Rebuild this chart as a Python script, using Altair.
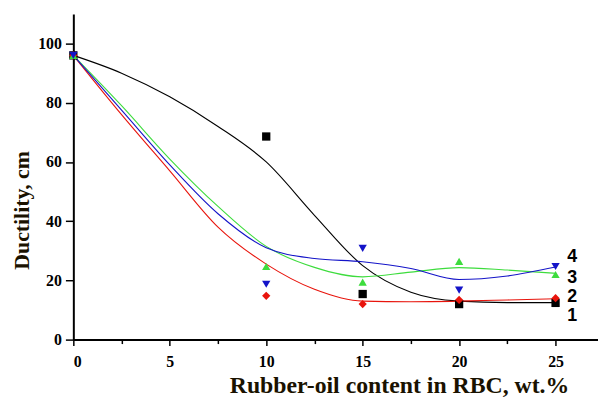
import altair as alt
import pandas as pd

# measured points
pt_x = [0, 10, 15, 20, 25]
s1 = [96, 68.6, 15.4, 12.0, 12.4]
s2 = [96, 14.8, 12.0, 13.4, 14.0]
s3 = [96, 24.7, 19.4, 26.4, 22.0]
s4 = [96, 18.7, 30.8, 16.7, 24.7]

# smoothed curves
cx = [0, 2.5, 5, 7.5, 10, 12.5, 15, 17.5, 20, 22.5, 25]
c1 = [96, 90, 82, 72, 60, 42, 25, 16, 13, 12.5, 12.5]
c2 = [96, 76, 57, 38, 25.5, 17, 13, 12.8, 13, 13.4, 13.8]
c3 = [96, 79, 61, 45, 31.5, 24.4, 21.2, 22.8, 24.3, 23.5, 22.4]
c4 = [96, 77.5, 59, 42.5, 31, 27.4, 26.3, 24, 20.3, 21.5, 24.5]

series = ["1", "2", "3", "4"]
colors = ["#000000", "#e8140c", "#3ddc3d", "#1414c8"]
shapes = ["square", "diamond", "triangle-up", "triangle-down"]
label_y = [8, 14.4, 20.7, 27.8]
label_x = 25.6

x_ticks = [0, 2.5, 5, 7.5, 10, 12.5, 15, 17.5, 20, 22.5, 25, 27.5]
y_ticks = [0, 10, 20, 30, 40, 50, 60, 70, 80, 90, 100, 110]

pts = pd.DataFrame(
    [{"x": x, "y": v, "s": s} for s, vals in zip(series, [s1, s2, s3, s4]) for x, v in zip(pt_x, vals)]
)
curves = pd.DataFrame(
    [{"x": x, "y": v, "s": s} for s, vals in zip(series, [c1, c2, c3, c4]) for x, v in zip(cx, vals)]
)
labs = pd.DataFrame({"x": [label_x] * 4, "y": label_y, "t": series})

xs = alt.Scale(domain=[0, 27.2], nice=False)
ys = alt.Scale(domain=[0, 110], nice=False)
cs = alt.Scale(domain=series, range=colors)
ss = alt.Scale(domain=series, range=shapes)

lab_font = "Liberation Serif"

xaxis = alt.Axis(
    values=x_ticks, grid=False, orient="bottom",
    labelExpr="datum.value % 5 === 0 && datum.value <= 25 ? format(datum.value, 'd') : ''",
    labelFont=lab_font, labelFontWeight="bold", labelFontSize=16, labelColor="#000",
    labelPadding=8, tickSize={"expr": "datum.value % 5 === 0 ? 6 : 4"}, tickWidth=1.5, tickColor="#000",
    domainColor="#000", domainWidth=2,
    title="Rubber-oil content in RBC, wt.%", titleFont=lab_font, titleFontWeight="bold",
    titleFontSize=24, titleColor="#1a1200", titleX=329, titleY=53, titleAlign="center",
    titleBaseline="alphabetic",
)
yaxis = alt.Axis(
    values=y_ticks, grid=False, orient="left",
    labelExpr="datum.value % 20 === 0 && datum.value <= 100 ? format(datum.value, 'd') : ''",
    labelFont=lab_font, labelFontWeight="bold", labelFontSize=16, labelColor="#000",
    labelPadding=4, tickSize={"expr": "datum.value % 20 === 0 ? 8 : 5"}, tickWidth=1.5, tickColor="#000",
    domainColor="#000", domainWidth=2,
    title="Ductility, cm", titleFont=lab_font, titleFontWeight="bold",
    titleFontSize=22, titleColor="#1a1200", titleX=-45, titleY=198, titleAngle=-90,
    titleAlign="center", titleBaseline="alphabetic",
)

lines = alt.Chart(curves).mark_line(strokeWidth=1.1, interpolate="monotone").encode(
    x=alt.X("x:Q", scale=xs, axis=xaxis),
    y=alt.Y("y:Q", scale=ys, axis=yaxis),
    color=alt.Color("s:N", scale=cs, legend=None),
    detail="s:N",
)

points = alt.Chart(pts).mark_point(filled=True, opacity=1, size=70).encode(
    x=alt.X("x:Q", scale=xs),
    y=alt.Y("y:Q", scale=ys),
    color=alt.Color("s:N", scale=cs, legend=None),
    shape=alt.Shape("s:N", scale=ss, legend=None),
    order=alt.Order("s:N"),
)

texts = alt.Chart(labs).mark_text(
    align="left", baseline="middle", font="Liberation Sans", fontWeight="bold", fontSize=18, color="#000"
).encode(
    x=alt.X("x:Q", scale=xs),
    y=alt.Y("y:Q", scale=ys),
    text="t:N",
)

chart = alt.layer(lines, points, texts).properties(
    width=530, height=329,
    autosize=alt.AutoSizeParams(type="none"),
    padding={"left": 66, "top": 4, "right": 0, "bottom": 58},
    background="white",
).configure_view(stroke=None)

chart.save("out.html", embed_options={"renderer": "svg", "actions": False})
